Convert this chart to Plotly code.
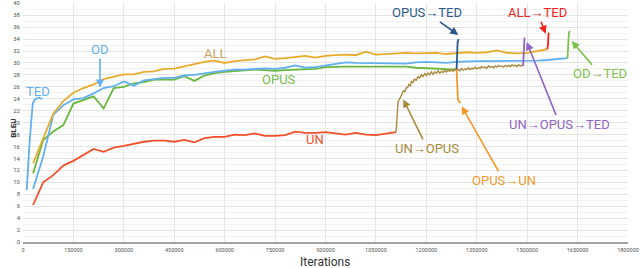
import plotly.graph_objects as go

# ---------------- data ----------------
all_x = [30000 * k for k in range(1, 53)]  # 30k .. 1560k
all_y = [13.2, 17.5, 21.5, 23.6, 25.0, 25.8, 26.4, 27.3, 27.7, 28.1,
         28.1, 28.5, 28.6, 29.0, 29.05, 29.4, 29.8, 30.2, 30.4, 30.0,
         30.3, 30.4, 30.6, 31.1, 30.7, 30.8, 31.0, 31.2, 30.9, 31.2,
         31.3, 31.4, 31.3, 31.9, 31.4, 31.5, 31.5, 31.7, 31.6, 31.6,
         31.7, 31.5, 31.6, 31.8, 31.7, 31.8, 32.1, 31.7, 31.6, 31.7,
         32.0, 32.3]

od_x = [30000 * k for k in range(1, 55)]  # 30k .. 1620k
od_y = [8.9, 14.3, 21.3, 22.9, 23.9, 24.1, 24.9, 25.8, 26.1, 26.9,
        26.2, 27.1, 27.3, 27.5, 27.5, 27.9, 28.0, 28.3, 28.5, 28.7,
        28.9, 28.9, 29.0, 29.1, 29.0, 29.2, 29.6, 29.2, 29.3, 29.6,
        29.8, 30.1, 30.0, 30.0, 30.0, 30.0, 30.0, 29.9, 30.1, 30.2,
        30.1, 30.0, 30.2, 30.3, 30.3, 30.3, 30.3, 30.4, 30.4, 30.3,
        30.4, 30.5, 30.6, 30.8]

opus_x = [30000 * k for k in range(1, 44)]  # 30k .. 1290k
opus_y = [11.5, 17.1, 18.5, 19.6, 23.2, 23.8, 24.4, 22.4, 25.8, 26.0,
          26.6, 26.8, 27.2, 27.2, 27.2, 27.8, 27.0, 27.9, 28.3, 28.5,
          28.6, 28.8, 28.9, 28.8, 28.7, 28.8, 28.9, 29.0, 29.0, 29.3,
          29.4, 29.4, 29.4, 29.4, 29.4, 29.4, 29.45, 29.4, 29.2, 29.1,
          29.1, 29.0, 28.9]

un_x = [30000 * k for k in range(1, 38)]  # 30k .. 1110k
un_y = [6.2, 10.0, 11.2, 12.8, 13.6, 14.6, 15.6, 15.1, 15.8, 16.1,
        16.5, 16.8, 17.0, 17.0, 16.8, 17.1, 16.7, 17.4, 17.6, 17.6,
        18.0, 17.9, 18.2, 17.8, 17.8, 17.9, 18.5, 18.3, 18.3, 18.4,
        18.2, 18.0, 18.3, 18.0, 17.9, 18.2, 18.4]

ted_x = [11000, 20000, 29000, 35000, 45000, 58000]
ted_y = [8.7, 17.0, 23.2, 23.9, 24.2, 24.0]

un_opus_x = [1110000, 1113000, 1116000, 1120000, 1124000, 1128000, 1132000,
             1136000, 1140000, 1144000, 1148000, 1152000, 1156000, 1160000,
             1165000, 1170000, 1175000, 1180000, 1185000, 1190000, 1195000,
             1200000, 1205000, 1210000, 1215000, 1220000, 1225000, 1230000,
             1235000, 1240000, 1245000, 1250000, 1255000, 1260000, 1265000,
             1270000, 1275000, 1280000, 1285000, 1290000, 1295000, 1300000,
             1305000, 1310000, 1315000, 1320000, 1325000, 1330000, 1335000,
             1340000, 1345000, 1350000, 1355000, 1360000, 1365000, 1370000,
             1375000, 1380000, 1385000, 1390000, 1395000, 1400000, 1405000,
             1410000, 1415000, 1420000, 1425000, 1430000, 1435000, 1440000,
             1445000, 1450000, 1455000, 1460000, 1465000, 1470000, 1475000,
             1480000, 1485000, 1488000]
un_opus_y = [18.4, 21.0, 23.6, 23.9, 24.4, 24.6, 25.3,
             25.2, 25.8, 25.9, 26.4, 26.2, 26.9, 26.7,
             27.3, 27.1, 27.7, 27.5, 28.0, 27.7, 28.2,
             27.9, 28.3, 28.0, 28.5, 28.1, 28.5, 28.3,
             28.7, 28.3, 28.6, 28.4, 28.8, 28.5, 28.8,
             28.6, 28.9, 28.6, 29.0, 28.8, 28.9, 28.7,
             29.1, 28.8, 29.0, 28.9, 29.2, 28.9, 29.1,
             29.0, 29.3, 29.0, 29.2, 29.1, 29.4, 29.2,
             29.3, 29.1, 29.5, 29.3, 29.4, 29.2, 29.5,
             29.3, 29.6, 29.4, 29.5, 29.3, 29.6, 29.4,
             29.6, 29.4, 29.7, 29.5, 29.6, 29.4, 29.7,
             29.5, 29.6, 29.5]

opus_ted_x = [1290000, 1291000, 1293000, 1296000]
opus_ted_y = [28.9, 31.5, 33.5, 34.0]

opus_un_x = [1290000, 1291000, 1292000, 1294000, 1298000, 1302000]
opus_un_y = [28.9, 27.0, 24.6, 23.9, 23.5, 23.3]

un_opus_ted_x = [1488000, 1489000, 1490000, 1492000, 1494000]
un_opus_ted_y = [29.5, 31.5, 33.7, 34.1, 34.2]

all_ted_x = [1560000, 1562000, 1563000, 1564000]
all_ted_y = [32.3, 33.0, 34.5, 35.1]

od_ted_x = [1620000, 1622000, 1624000, 1627000]
od_ted_y = [30.8, 32.5, 35.0, 35.4]

x_ticks = [150000 * k for k in range(0, 13)]
y_ticks = list(range(0, 41, 2))

# ---------------- colours ----------------
C_ALL = "#E9AB2C"
C_BLUE = "#63B0F0"
C_OPUS = "#69B83D"
C_UN = "#F2502B"
C_UNOPUS = "#A98A3C"
C_OPUSTED = "#2A5A8C"
C_OPUSUN = "#F39A2C"
C_PURPLE = "#9064C8"
C_ALLTED = "#F2231E"
C_ODTED = "#7CC34C"

fig = go.Figure()

def add(x, y, color, width=1.8):
    fig.add_trace(go.Scatter(x=x, y=y, mode="lines",
                             line=dict(color=color, width=width),
                             showlegend=False, hoverinfo="skip"))

add(un_x, un_y, C_UN)
add(opus_x, opus_y, C_OPUS)
add(od_x, od_y, C_BLUE)
add(all_x, all_y, C_ALL)
add(ted_x, ted_y, C_BLUE)
add(un_opus_x, un_opus_y, C_UNOPUS, 1.4)
add(opus_ted_x, opus_ted_y, C_OPUSTED)
add(opus_un_x, opus_un_y, C_OPUSUN)
add(un_opus_ted_x, un_opus_ted_y, C_PURPLE)
add(all_ted_x, all_ted_y, C_ALLTED)
add(od_ted_x, od_ted_y, C_ODTED)

FONT = "Roboto, Liberation Sans, Arial, sans-serif"

def label(text, x, y, color):
    fig.add_annotation(x=x, y=y, text=text, showarrow=False,
                       font=dict(family=FONT, size=13, color=color))

def arrow_label(text, x, y, ax, ay, color):
    fig.add_annotation(x=x, y=y, text=text, showarrow=True,
                       ax=ax, ay=ay, arrowhead=2, arrowsize=1,
                       arrowwidth=1.6, arrowcolor=color,
                       font=dict(family=FONT, size=13, color=color))

label("TED", 45500, 25.3, C_BLUE)
arrow_label("OD", 229000, 25.9, 0, -38, C_BLUE)
label("ALL", 571000, 31.65, "#C9A463")
label("OPUS", 761600, 27.2, "#74BD4A")
label("UN", 868700, 17.1, C_UN)
arrow_label("UN→OPUS", 1131500, 23.9, 24, 49, C_UNOPUS)
arrow_label("OPUS→TED", 1295000, 34.7, -31, -22, C_OPUSTED)
arrow_label("ALL→TED", 1555000, 34.9, -8, -21, C_ALLTED)
arrow_label("OPUS→UN", 1305000, 22.75, 42, 74, C_OPUSUN)
arrow_label("UN→OPUS→TED", 1498600, 33.5, 33, 82, C_PURPLE)
arrow_label("OD→TED", 1632500, 33.7, 28, 33, C_ODTED)

# axis titles as paper annotations
fig.add_annotation(xref="paper", yref="paper", x=0.499, y=-0.084,
                   text="Iterations", showarrow=False, yanchor="middle",
                   font=dict(family=FONT, size=12, color="#333"))
fig.add_annotation(xref="paper", yref="paper", x=-0.026, y=0.477,
                   text="<b>BLEU</b>", showarrow=False, textangle=-90,
                   font=dict(family=FONT, size=8, color="#333"))

fig.update_layout(
    width=640, height=268,
    margin=dict(l=23, r=12, t=3, b=26, autoexpand=False),
    paper_bgcolor="white", plot_bgcolor="white",
    font=dict(family=FONT, color="#444"),
    xaxis=dict(range=[0, 1800000], tickmode="array", tickvals=x_ticks,
               ticktext=[str(v) for v in x_ticks],
               tickfont=dict(size=5.5, color="#555"),
               ticklabeloverflow="allow",
               showgrid=True, gridcolor="#e6e6e6", gridwidth=1,
               zeroline=False, showline=True, linecolor="#a0a0a0",
               linewidth=2, automargin=False, ticklabelstandoff=1),
    yaxis=dict(range=[0, 40.05], tickmode="array", tickvals=y_ticks,
               ticktext=[str(v) for v in y_ticks],
               tickfont=dict(size=6, color="#555"),
               ticklabeloverflow="allow",
               showgrid=True, gridcolor="#e4e4e4", gridwidth=1,
               minor=dict(dtick=1, showgrid=True, gridcolor="#f2f2f2"),
               zeroline=False, showline=False, automargin=False,
               ticklabelstandoff=2),
)

fig.write_html("out.html",
               config={"displayModeBar": False},
               post_script="document.body.style.margin='0px';"
                           "document.body.style.overflow='hidden';")
